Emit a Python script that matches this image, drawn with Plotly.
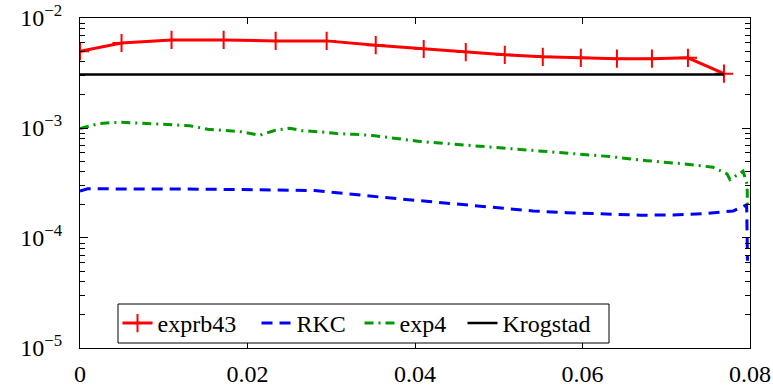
import plotly.graph_objects as go

# exprb43 (red, + markers)
exprb43_x = [0.0, 0.00496, 0.01093, 0.01715, 0.02336, 0.02945, 0.03531, 0.04104, 0.04606,
             0.05072, 0.05526, 0.05980, 0.06411, 0.06829, 0.07259, 0.07689]
exprb43_y = [5.0e-3, 5.93e-3, 6.33e-3, 6.33e-3, 6.2e-3, 6.2e-3, 5.67e-3, 5.23e-3, 4.9e-3,
             4.63e-3, 4.44e-3, 4.35e-3, 4.27e-3, 4.27e-3, 4.35e-3, 3.12e-3]

# RKC (blue, dashed)
rkc_x = [0.0, 0.0009, 0.015, 0.028, 0.036, 0.043, 0.050, 0.0541, 0.0581, 0.0621, 0.0669,
         0.0708, 0.0748, 0.0780, 0.0792, 0.0796, 0.0797]
rkc_y = [2.67e-4, 2.8e-4, 2.78e-4, 2.7e-4, 2.35e-4, 2.1e-4, 1.88e-4, 1.76e-4, 1.7e-4, 1.67e-4,
         1.61e-4, 1.62e-4, 1.67e-4, 1.76e-4, 1.92e-4, 2.0e-4, 6.2e-5]

# exp4 (green, dash-dot)
exp4_x = [0.0, 0.0023, 0.00472, 0.0107, 0.01308, 0.01524, 0.01727, 0.0193, 0.02145, 0.02324,
          0.02503, 0.02658, 0.02886, 0.03065, 0.0328, 0.03495, 0.04057, 0.05013, 0.05526,
          0.05968, 0.06327, 0.0677, 0.07248, 0.07558, 0.07725, 0.07761, 0.07917, 0.07965, 0.0797]
exp4_y = [9.9e-4, 1.1e-3, 1.13e-3, 1.08e-3, 1.05e-3, 9.75e-4, 9.5e-4, 9.24e-4, 8.6e-4, 9.5e-4,
          9.96e-4, 9.45e-4, 9.2e-4, 8.9e-4, 8.76e-4, 8.55e-4, 7.55e-4, 6.58e-4, 6.13e-4,
          5.8e-4, 5.5e-4, 5.05e-4, 4.69e-4, 4.4e-4, 3.83e-4, 3.4e-4, 4.05e-4, 3.09e-4, 2.04e-4]

# Krogstad (black, solid)
krog_x = [0.0, 0.0769]
krog_y = [3.06e-3, 3.06e-3]

x_ticks = [0, 0.02, 0.04, 0.06, 0.08]
x_ticktext = ["0", "0.02", "0.04", "0.06", "0.08"]
y_ticks = [1e-5, 1e-4, 1e-3, 1e-2]
y_ticktext = ["10<sup>−5</sup>", "10<sup>−4</sup>", "10<sup>−3</sup>", "10<sup>−2</sup>"]

FONT = "Liberation Serif"
W, H = 773, 387
ML, MR, MT, MB = 80, 23, 18, 39
PW, PH = W - ML - MR, H - MT - MB


def px_x(px):
    return (px - ML) / PW


def px_y(py):
    return (H - MB - py) / PH


fig = go.Figure()
fig.add_trace(go.Scatter(x=exprb43_x, y=exprb43_y, name="exprb43", mode="lines+markers",
                         legend="legend",
                         line=dict(color="#ff0000", width=3),
                         marker=dict(symbol="cross-thin", size=13, color="#ff0000",
                                     line=dict(color="#ff0000", width=2))))
fig.add_trace(go.Scatter(x=rkc_x, y=rkc_y, name="RKC", mode="lines", legend="legend2",
                         line=dict(color="#0000ff", width=3, dash="11px,7px")))
fig.add_trace(go.Scatter(x=exp4_x, y=exp4_y, name="exp4", mode="lines", legend="legend3",
                         line=dict(color="#009900", width=3, dash="9px,5px,2px,5px")))
fig.add_trace(go.Scatter(x=krog_x, y=krog_y, name="Krogstad", mode="lines", legend="legend4",
                         line=dict(color="#000000", width=2.5)))

leg_common = dict(orientation="h", yanchor="middle", xanchor="left", y=px_y(323.5),
                  bgcolor="rgba(0,0,0,0)", borderwidth=0, itemwidth=30,
                  font=dict(family=FONT, size=24))
fig.update_layout(
    width=W, height=H,
    margin=dict(l=ML, r=MR, t=MT, b=MB),
    paper_bgcolor="white", plot_bgcolor="white",
    font=dict(family=FONT, size=24, color="black"),
    showlegend=True,
    legend=dict(x=px_x(117.5), **leg_common),
    legend2=dict(x=px_x(256.5), **leg_common),
    legend3=dict(x=px_x(359.5), **leg_common),
    legend4=dict(x=px_x(462.5), **leg_common),
    shapes=[dict(type="rect", xref="paper", yref="paper",
                 x0=px_x(118), x1=px_x(609), y0=px_y(343), y1=px_y(304),
                 fillcolor="white", line=dict(color="black", width=1), layer="above")],
)
fig.update_xaxes(range=[0, 0.08], tickvals=x_ticks, ticktext=x_ticktext, automargin=False,
                 showgrid=False, zeroline=False, showline=True, linecolor="black",
                 linewidth=1, mirror="ticks", ticks="inside", ticklen=6,
                 tickcolor="black", tickfont=dict(family=FONT, size=24),
                 ticklabelstandoff=4)
fig.update_yaxes(type="log", range=[-5.0005, -1.9995], tickvals=y_ticks, ticktext=y_ticktext,
                 automargin=False, ticklabeloverflow="allow",
                 showgrid=False, zeroline=False, showline=True, linecolor="black",
                 linewidth=1, mirror="ticks", ticks="inside", ticklen=8,
                 tickcolor="black", tickfont=dict(family=FONT, size=24),
                 ticklabelstandoff=12,
                 minor=dict(ticks="inside", ticklen=5, tickcolor="black", dtick="D1",
                            showgrid=False))

fig.write_html("out.html")
